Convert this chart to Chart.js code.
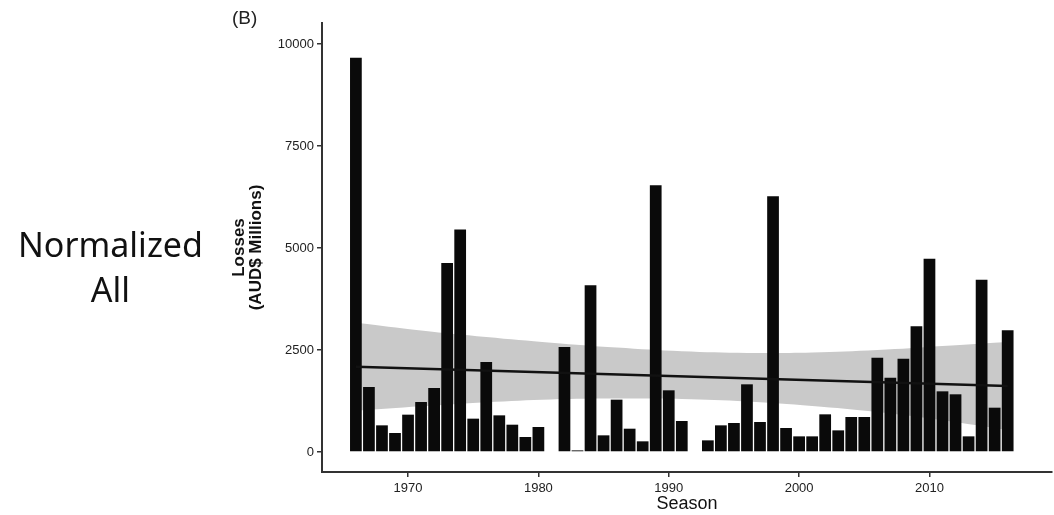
<!DOCTYPE html>
<html>
<head>
<meta charset="utf-8">
<script src="https://cdn.jsdelivr.net/npm/chart.js"></script>
<style>
  body { margin: 0; background: #fff; }
  #wrap { position: relative; width: 1054px; height: 515px; }
  #side { position: absolute; left: 0; width: 221px; top: 222px; text-align: center;
          font: 34px "Noto Sans"; line-height: 45px; color: #111; }
  #tag { position: absolute; left: 232px; top: 7px; font: 19px "Liberation Sans"; color: #222; }
  canvas { position: absolute; left: 0; top: 0; }
</style>
</head>
<body>
<div id="wrap">
  <canvas id="chart" width="1054" height="515"></canvas>
  <div id="side">Normalized<br>All</div>
  <div id="tag">(B)</div>
</div>
<script>
// seasons and normalised losses (AUD$ millions)
const years = [1966, 1967, 1968, 1969, 1970, 1971, 1972, 1973, 1974, 1975,
  1976, 1977, 1978, 1979, 1980, 1981, 1982, 1983, 1984, 1985,
  1986, 1987, 1988, 1989, 1990, 1991, 1992, 1993, 1994, 1995,
  1996, 1997, 1998, 1999, 2000, 2001, 2002, 2003, 2004, 2005,
  2006, 2007, 2008, 2009, 2010, 2011, 2012, 2013, 2014, 2015, 2016];
const losses = [9665, 1594, 654, 466, 916, 1226, 1570, 4636, 5454, 818,
  2208, 899, 670, 368, 613, 0, 2576, 40, 4088, 409,
  1284, 572, 262, 6541, 1513, 760, 0, 286, 654, 711,
  1660, 736, 6271, 589, 384, 384, 924, 531, 859, 859,
  2314, 1823, 2289, 3083, 4742, 1488, 1415, 384, 4227, 1087, 2984];

// linear trend and its confidence band
const trendYears = [1966, 2016];
const trendLosses = [2090, 1620];
const bandYears = [1966, 1971, 1976, 1981, 1986, 1991, 1996, 2001, 2006, 2011, 2016];
const bandUpper = [3170, 2980, 2820, 2680, 2560, 2470, 2430, 2440, 2500, 2600, 2700];
const bandLower = [1010, 1120, 1220, 1290, 1310, 1300, 1240, 1130, 980, 780, 540];

const xTicks = [1970, 1980, 1990, 2000, 2010];
const yTicks = [0, 2500, 5000, 7500, 10000];

const pts = (xs, ys) => xs.map((x, i) => ({ x: x, y: ys[i] }));

const axisColor = '#333';
const tickFont = { family: 'Liberation Sans', size: 13 };

new Chart(document.getElementById('chart'), {
  data: {
    datasets: [
      {
        type: 'line',
        data: pts(trendYears, trendLosses),
        borderColor: '#111',
        borderWidth: 2.5,
        pointRadius: 0,
        order: 0
      },
      {
        type: 'bar',
        data: pts(years, losses),
        backgroundColor: '#0a0a0a',
        barPercentage: 0.9,
        categoryPercentage: 1,
        order: 1
      },
      {
        type: 'line',
        data: pts(bandYears, bandUpper),
        borderWidth: 0,
        pointRadius: 0,
        tension: 0.4,
        fill: '+1',
        backgroundColor: '#c9c9c9',
        order: 2
      },
      {
        type: 'line',
        data: pts(bandYears, bandLower),
        borderWidth: 0,
        pointRadius: 0,
        tension: 0.4,
        fill: false,
        order: 3
      }
    ]
  },
  options: {
    responsive: false,
    animation: false,
    layout: { padding: { left: 230, top: 23, right: 2, bottom: 0 } },
    plugins: { legend: { display: false }, tooltip: { enabled: false } },
    scales: {
      x: {
        type: 'linear',
        min: 1963.4,
        max: 2019.4,
        offset: false,
        border: { color: axisColor, width: 2 },
        grid: { offset: false, drawOnChartArea: false, color: axisColor, tickLength: 5, lineWidth: 1.5 },
        afterBuildTicks: s => { s.ticks = xTicks.map(v => ({ value: v })); },
        afterFit: s => { s.height = 43; },
        ticks: { font: tickFont, color: '#222', padding: 4, maxRotation: 0, autoSkip: false,
                 callback: v => String(v) },
        title: { display: true, text: 'Season', color: '#111',
                 font: { family: 'Liberation Sans', size: 18 }, padding: { top: 0, bottom: 0 } }
      },
      y: {
        type: 'linear',
        min: -490,
        max: 10520,
        border: { color: axisColor, width: 2 },
        grid: { drawOnChartArea: false, color: axisColor, tickLength: 5, lineWidth: 1.5 },
        afterBuildTicks: s => { s.ticks = yTicks.map(v => ({ value: v })); },
        afterFit: s => { s.width = 92; },
        ticks: { font: tickFont, color: '#222', padding: 3, callback: v => String(v) },
        title: { display: true, text: ['Losses', '(AUD$ Millions)'], color: '#111',
                 font: { family: 'Liberation Sans', size: 17, weight: 'bold', lineHeight: 1.05 },
                 padding: 0 }
      }
    }
  }
});
</script>
</body>
</html>
